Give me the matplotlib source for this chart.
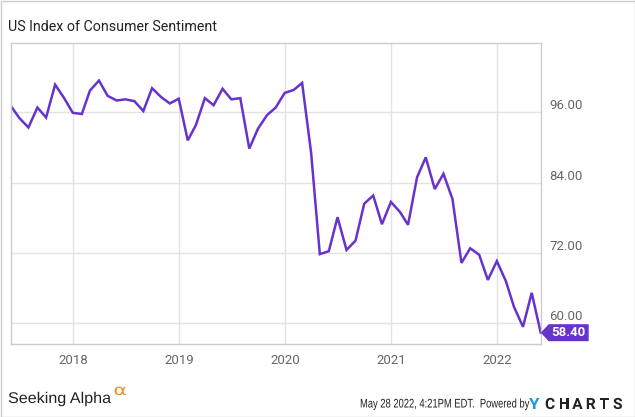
import numpy as np
import pandas as pd
import matplotlib
matplotlib.use("Agg")
import matplotlib.pyplot as plt
import matplotlib.dates as mdates
from matplotlib.patches import Polygon, Rectangle, PathPatch
from matplotlib.textpath import TextPath
from matplotlib.font_manager import FontProperties
from matplotlib.transforms import Affine2D

# University of Michigan consumer sentiment, monthly (month-end dates)
dates = pd.date_range("2017-05-31", periods=61, freq="ME")
values = [97.1, 95.0, 93.4, 96.8, 95.1, 100.7, 98.5, 95.9,
          95.7, 99.7, 101.4, 98.8, 98.0, 98.2, 97.9, 96.2, 100.1, 98.6, 97.5, 98.3,
          91.2, 93.8, 98.4, 97.2, 100.0, 98.2, 98.4, 89.8, 93.2, 95.5, 96.8, 99.3,
          99.8, 101.0, 89.1, 71.8, 72.3, 78.1, 72.5, 74.1, 80.4, 81.8, 76.9, 80.7,
          79.0, 76.8, 84.9, 88.3, 82.9, 85.5, 81.2, 70.3, 72.8, 71.7, 67.4, 70.6,
          67.2, 62.8, 59.4, 65.2, 58.4]
yticks = [60, 72, 84, 96]
xyears = [2018, 2019, 2020, 2021, 2022]

purple = "#6633cc"
W, H = 635, 417

fig = plt.figure(figsize=(W/100, H/100), dpi=100)
ax = fig.add_axes([10.7/W, (H-344.3)/H, 530/W, 301.6/H])

ax.plot(dates, values, color=purple, lw=1.8, solid_joinstyle="miter")

ax.set_xlim(dates[0], dates[-1])
ax.set_ylim(56.42, 107.86)
ax.set_yticks(yticks)
ax.set_yticklabels([f"{v:.2f}" for v in yticks])
ax.set_xticks([pd.Timestamp(f"{y}-01-01") for y in xyears])
ax.set_xticklabels([str(y) for y in xyears])
ax.yaxis.tick_right()
ax.tick_params(axis="both", length=0, labelsize=9.5, labelcolor="#666666")
ax.tick_params(axis="y", pad=6)
ax.tick_params(axis="x", pad=7)
for lab in ax.get_xticklabels() + ax.get_yticklabels():
    lab.set_fontfamily("Roboto")
for lab in ax.get_yticklabels():
    lab.set_horizontalalignment("left")
    lab.set_verticalalignment("bottom")
ax.grid(True, color="#e3e3e3", lw=1)
for s in ax.spines.values():
    s.set_color("#cccccc")
    s.set_linewidth(1)

fig.text(8/W, 1-26.7/H, "US Index of Consumer Sentiment", fontsize=10.3,
         family="Roboto", color="#222222", va="center", ha="left")

# last value flag
fig.canvas.draw()
xr, yr = ax.transData.transform((mdates.date2num(dates[-1]), values[-1]))
xr = ax.transAxes.transform((1, 0))[0]
hh = 8.5
poly = Polygon([(xr, yr), (xr+8, yr+hh), (xr+48, yr+hh), (xr+48, yr-hh), (xr+8, yr-hh)],
               closed=True, transform=None, facecolor=purple, edgecolor="none",
               clip_on=False)
fig.patches.append(poly)
fig.text((xr+28)/W, yr/H, f"{values[-1]:.2f}", color="white", fontsize=9.5,
         fontweight="bold", family="Roboto", ha="center", va="center")


def path_text(s, x, y, size, sx, color, family="Liberation Sans", weight="normal"):
    # text drawn as a path so it can be squeezed/stretched sideways (pixel coords)
    tp = TextPath((0, 0), s, size=size, prop=FontProperties(family=family, weight=weight))
    tr = Affine2D().scale(sx, 1).translate(x, H - y)
    fig.patches.append(PathPatch(tr.transform_path(tp), transform=None,
                                 facecolor=color, edgecolor="none", lw=0))


# footer
path_text("Seeking Alpha", 8, 403, 15.5, 1.04, "#222222")
path_text("\u03b1", 113.5, 395, 15, 1.35, "#f28c1f", family="DejaVu Sans")
path_text("May 28 2022, 4:21PM EDT.  Powered by", 360, 407.5, 12.5, 0.75, "#222222")
path_text("Y", 529, 409, 15.5, 1.1, "#1b9ad6", family="Roboto", weight="bold")
for i, ch in enumerate("CHARTS"):
    path_text(ch, 545 + i*13.6, 409, 15.5, 1.0, "#222222", family="Roboto", weight="bold")

fig.patches.append(Rectangle((0.5, 0.5), W-1, H-1, transform=None, fill=False,
                             edgecolor="#cccccc", lw=1))

fig.savefig("out.png", dpi=100)
